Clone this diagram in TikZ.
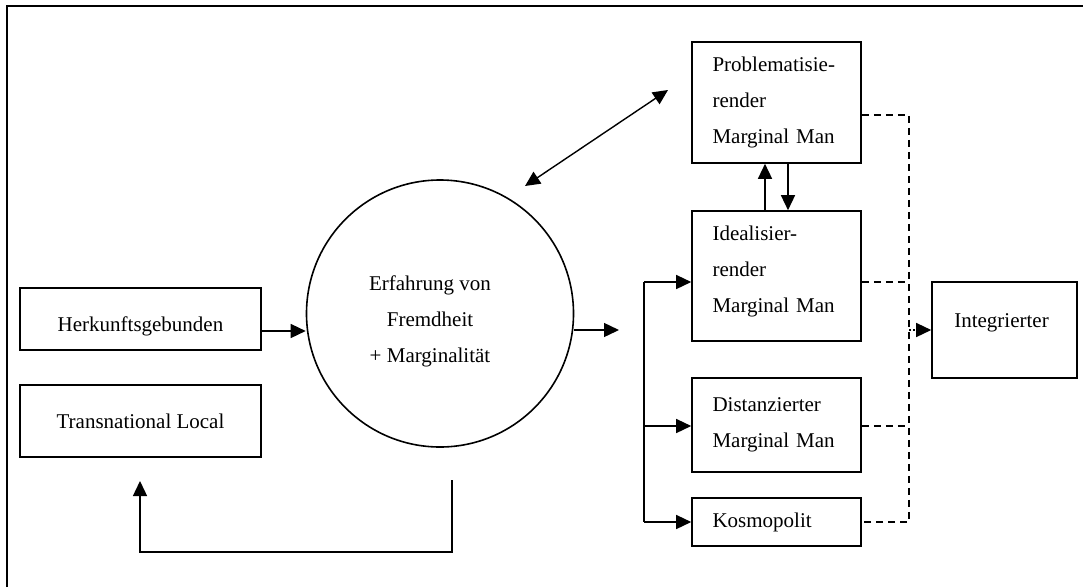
\documentclass[tikz,border=0pt]{standalone}
\usepackage{fontspec}
\setmainfont{Liberation Serif}
\usetikzlibrary{arrows.meta}
\begin{document}
\begin{tikzpicture}[x=1pt,y=-1pt,
  font=\fontsize{21}{36}\selectfont,
  box/.style={draw,line width=1.6pt,rectangle,inner sep=0pt},
  lbox/.style={box,align=left,text width=128pt,inner xsep=20.5pt},
  txt/.style={align=center,inner sep=0pt},
  ltxt/.style={align=left,text width=128pt,inner sep=0pt},
  tip/.style={-{Triangle[length=15pt,width=14pt]}},
  arr/.style={line width=1.4pt,tip},
  dbl/.style={line width=1.4pt,{Triangle[length=15pt,width=14pt]}-{Triangle[length=15pt,width=14pt]}},
  link/.style={line width=1.4pt},
  dsh/.style={line width=1.4pt,dash pattern=on 7pt off 5pt}]
\useasboundingbox (0,0) rectangle (1083,587);
% outer frame, open to the right and bottom
\draw[line width=2.4pt] (7,587) -- (7,6) -- (1083,6);

% left side
\node[box,minimum width=241pt,minimum height=62pt,
  label={[txt,name=herktext,yshift=-7pt]center:Herkunftsgebunden}] (herk) at (140.5,319) {};
\node[box,minimum width=241pt,minimum height=72pt] (trans) at (140.5,421) {Transnational Local};
\node[draw,circle,line width=1.6pt,minimum size=267pt,inner sep=0pt,
  label={[txt,name=circtext,yshift=-8pt,xshift=-10pt]center:Erfahrung von\\Fremdheit\\+ Marginalität}]
  (circ) at (440,313.5) {};

% right side
\node[lbox,minimum width=169pt,minimum height=121pt] (prob) at (776.5,102.5)
  {Problematisie-\\render\\Marginal Man};
\node[box,minimum width=169pt,minimum height=130pt,
  label={[ltxt,name=idealtext,yshift=5pt]center:Idealisier-\\render\\Marginal Man}] (ideal) at (776.5,276) {};
\node[lbox,minimum width=169pt,minimum height=94pt] (dist) at (776.5,425)
  {Distanzierter\\Marginal Man};
\node[lbox,minimum width=169pt,minimum height=48pt] (kos) at (776.5,522)
  {Kosmopolit};
\node[box,minimum width=145pt,minimum height=96pt,
  label={[txt,name=integtext,yshift=7pt,xshift=-3pt]center:Integrierter}] (integ) at (1004.5,330) {};

% free ends
\coordinate (out) at (619,330);
\coordinate (fbtop) at (452,480);
\coordinate (fbend) at (140,481);
\coordinate (dA) at (525,186);
\coordinate (dB) at (668,90);
\coordinate (brtop) at (644,282);
\coordinate (brbot) at (644,522);
\coordinate (dtop) at (909,115);
\coordinate (dbot) at (909,522);

% connectors
\draw[arr] (herk.east |- 0,331) -- (circ.west |- 0,331);
\draw[arr] (circ.east |- out) -- (out);
\draw[arr] (fbtop) -- (fbtop |- 0,552) -- (fbend |- 0,552) -- (fbend);
\draw[dbl] (dA) -- (dB);
\draw[arr] (ideal.north -| 765,0) -- (prob.south -| 765,0);
\draw[arr] (prob.south -| 788,0) -- (ideal.north -| 788,0);

% branching to the four types
\draw[link] (brtop) -- (brbot);
\draw[arr] (brtop) -- (ideal.west |- brtop);
\draw[arr] (brtop |- 0,426) -- (dist.west |- 0,426);
\draw[arr] (brbot) -- (kos.west |- brbot);

% dashed links to Integrierter
\draw[dsh] (prob.east |- dtop) -- (dtop) -- (dbot) -- (kos.east |- dbot);
\draw[dsh] (ideal.east |- 0,282) -- (dtop |- 0,282);
\draw[dsh] (dist.east |- 0,426) -- (dtop |- 0,426);
\draw[line width=1.4pt,dash pattern=on 2pt off 2pt,tip]
  (dtop |- 0,330) -- (integ.west |- 0,330);
\end{tikzpicture}
\end{document}
